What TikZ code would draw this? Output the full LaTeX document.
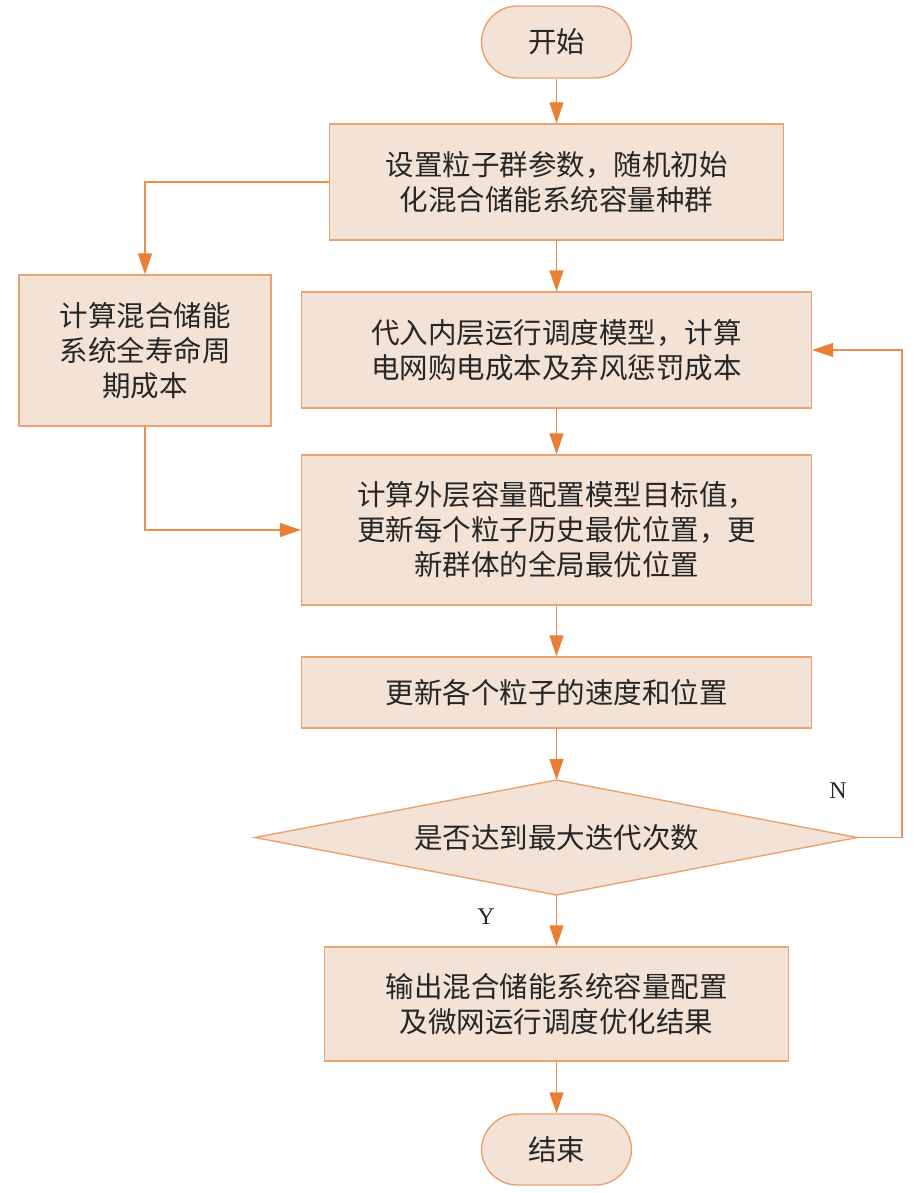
\documentclass[tikz,border=0pt]{standalone}
\usepackage{fontspec}
\setmainfont{Liberation Serif}
\newfontfamily\cjk{Noto Sans CJK SC}
\usetikzlibrary{arrows.meta,shapes.geometric}
\definecolor{boxfill}{HTML}{F2E3D6}
\definecolor{boxline}{HTML}{EDA16E}
\definecolor{arrline}{HTML}{E9904F}
\definecolor{arrhead}{HTML}{E97F35}
\begin{document}
\begin{tikzpicture}[x=1pt,y=-1pt,
  base/.style={draw=boxline,fill=boxfill,line width=1.4pt,inner sep=0pt,
    font=\cjk\fontsize{28.5}{35}\selectfont,text=black!85,align=center},
  procbox/.style={base,rectangle},
  pill/.style={base,rectangle,rounded corners=36pt},
  conn/.style={draw=arrline,line width=1.4pt,-{Triangle[length=21pt,width=14pt,fill=arrhead,color=arrhead]}},
  lab/.style={font=\fontsize{24}{28}\selectfont,text=black!85}]
\useasboundingbox (0,0) rectangle (922,1193);
\node[pill,minimum width=150pt,minimum height=72pt] (start) at (556.5,42) {开始};
\node[procbox,minimum width=454pt,minimum height=116pt] (init) at (556.5,182) {设置粒子群参数，随机初始\\化混合储能系统容量种群};
\node[procbox,minimum width=252pt,minimum height=151pt] (lcc) at (145,350.5) {计算混合储能\\系统全寿命周\\期成本};
\node[procbox,minimum width=510pt,minimum height=116pt] (inner) at (556.5,350) {代入内层运行调度模型，计算\\电网购电成本及弃风惩罚成本};
\node[procbox,minimum width=510pt,minimum height=150pt] (outer) at (556.5,530) {计算外层容量配置模型目标值，\\更新每个粒子历史最优位置，更\\新群体的全局最优位置};
\node[procbox,minimum width=510pt,minimum height=71pt] (upd) at (556.5,692.5) {更新各个粒子的速度和位置};
\path[base] (255,837.5) coordinate (dl) -- (556.5,780) coordinate (dt) -- (857,837.5) coordinate (dr) -- (556.5,895) coordinate (db) -- cycle;
\node[base,draw=none,fill=none] (dlab) at (556.5,837.5) {是否达到最大迭代次数};
\node[procbox,minimum width=464pt,minimum height=114pt] (out) at (556.5,1004) {输出混合储能系统容量配置\\及微网运行调度优化结果};
\node[pill,minimum width=150pt,minimum height=71pt] (end) at (556.5,1149.5) {结束};
\coordinate (c1) at (145,182);
\coordinate (c2) at (145,530);
\coordinate (c3) at (902,837.5);
\coordinate (c4) at (902,350);
\path[conn] (start) -- (init);
\path[conn] (init) -- (inner);
\path[conn] (inner) -- (outer);
\path[conn] (outer) -- (upd);
\path[conn] (upd) -- (dt);
\path[conn] (db) -- (out);
\path[conn] (out) -- (end);
\path[conn] (init.west) -- (c1) -- (lcc.north);
\path[conn] (lcc.south) -- (c2) -- (outer.west);
\path[conn] (dr) -- (c3) -- (c4) -- (inner.east);
\node[lab] (nlab) at (838,791) {N};
\node[lab] (ylab) at (486,917) {Y};
\end{tikzpicture}
\end{document}
